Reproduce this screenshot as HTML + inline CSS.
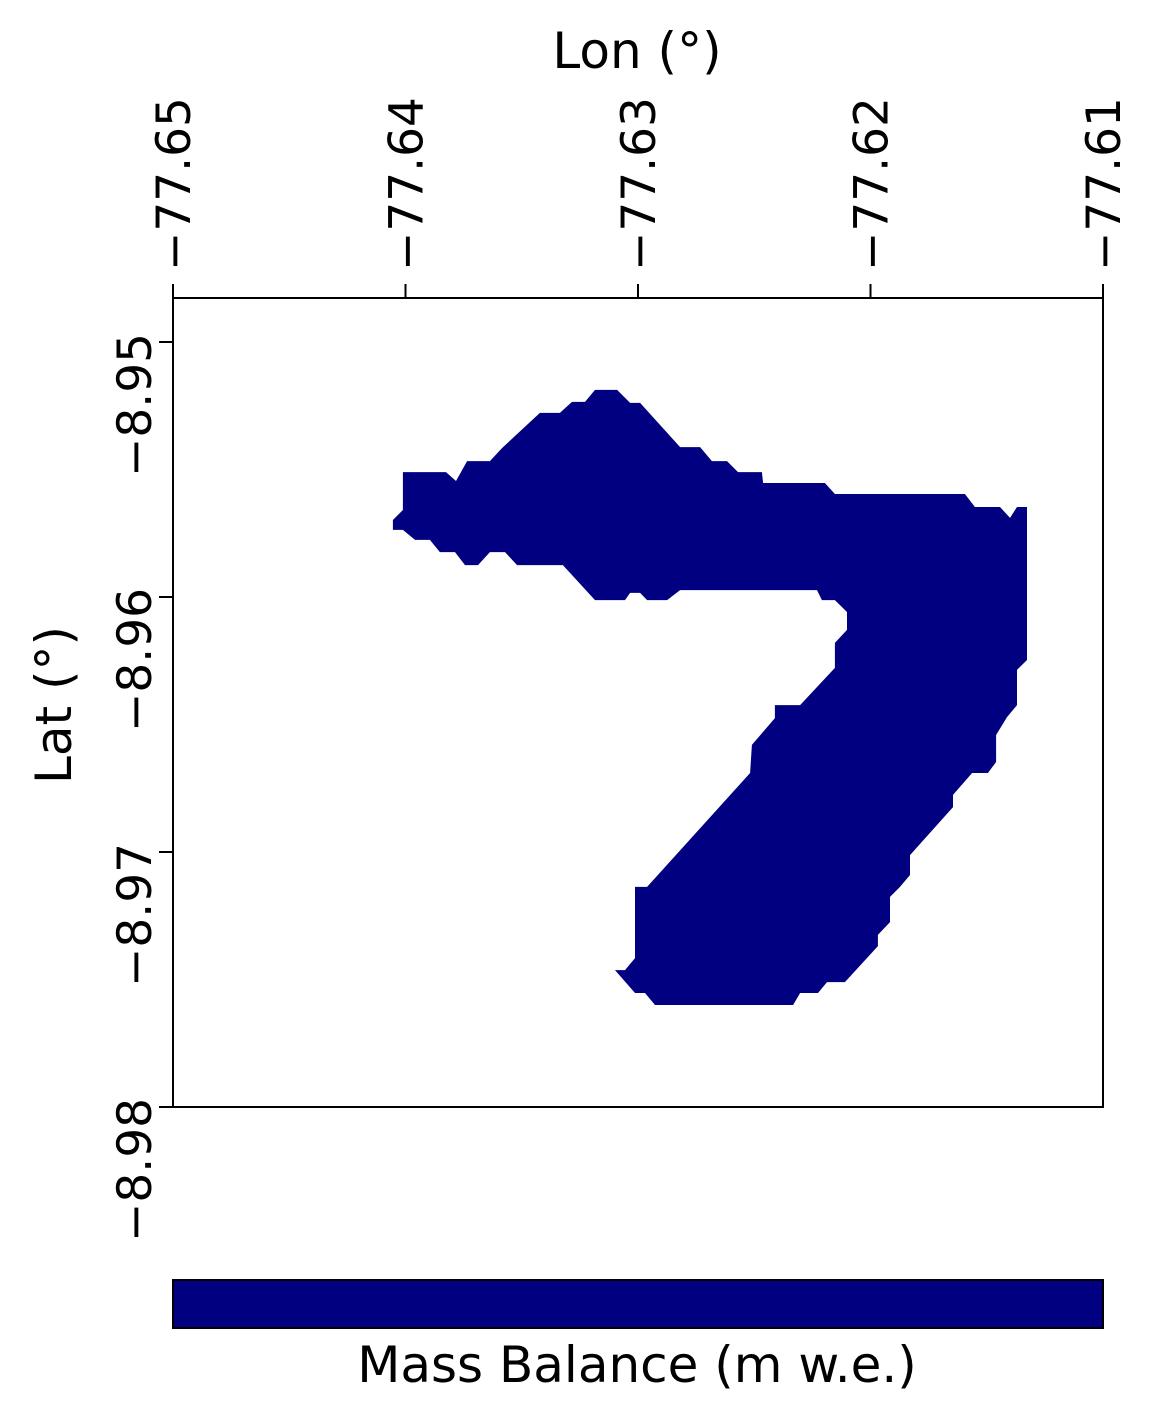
<!DOCTYPE html>
<html><head><meta charset="utf-8"><style>
html,body{margin:0;padding:0;background:#fff;}
svg text{font-family:"DejaVu Sans","Liberation Sans",sans-serif;fill:#000;}
</style></head><body>
<svg id="chart" width="1155" height="1421" viewBox="0 0 1155 1421" xmlns="http://www.w3.org/2000/svg">
<rect x="0" y="0" width="1155" height="1421" fill="#fff"/>
<g id="marks"></g>
<rect x="173" y="298" width="930" height="809" fill="none" stroke="#000" stroke-width="2"/>
<g id="axes"></g>
<text x="637" y="68" font-size="50" text-anchor="middle">Lon (°)</text>
<text transform="translate(71,705) rotate(-90)" font-size="50" text-anchor="middle">Lat (°)</text>
<rect x="173" y="1280" width="930" height="48" fill="#000080" stroke="#000" stroke-width="2"/>
<text x="637" y="1382" font-size="50" text-anchor="middle">Mass Balance (m w.e.)</text>
</svg>
<script>
const lonTicks=[-77.65,-77.64,-77.63,-77.62,-77.61];
const lonTickLabels=["−77.65","−77.64","−77.63","−77.62","−77.61"];
const latTicks=[-8.95,-8.96,-8.97,-8.98];
const latTickLabels=["−8.95","−8.96","−8.97","−8.98"];
const glacierLon=[-77.64054,-77.64011,-77.64011,-77.63826,-77.63783,-77.63735,-77.63637,-77.63585,-77.63422,-77.63336,-77.63284,-77.63228,-77.63185,-77.63090,-77.63034,-77.62991,-77.62819,-77.62733,-77.62682,-77.62617,-77.62570,-77.62467,-77.62462,-77.62196,-77.62153,-77.61594,-77.61551,-77.61443,-77.61400,-77.61370,-77.61327,-77.61327,-77.61370,-77.61370,-77.61413,-77.61460,-77.61460,-77.61495,-77.61563,-77.61645,-77.61645,-77.61830,-77.61830,-77.61873,-77.61916,-77.61916,-77.61968,-77.61968,-77.62110,-77.62187,-77.62226,-77.62303,-77.62333,-77.62927,-77.62970,-77.63013,-77.63099,-77.63056,-77.63013,-77.63013,-77.62961,-77.62518,-77.62510,-77.62411,-77.62411,-77.62303,-77.62153,-77.62153,-77.62101,-77.62101,-77.62153,-77.62209,-77.62230,-77.62819,-77.62875,-77.62961,-77.62991,-77.63034,-77.63056,-77.63185,-77.63323,-77.63520,-77.63572,-77.63637,-77.63688,-77.63744,-77.63787,-77.63852,-77.63895,-77.63959,-77.64011,-77.64054];
const glacierLat=[-8.95698,-8.95659,-8.95510,-8.95510,-8.95545,-8.95467,-8.95467,-8.95416,-8.95278,-8.95278,-8.95235,-8.95235,-8.95188,-8.95188,-8.95239,-8.95239,-8.95412,-8.95412,-8.95467,-8.95467,-8.95510,-8.95510,-8.95553,-8.95553,-8.95596,-8.95596,-8.95647,-8.95647,-8.95690,-8.95647,-8.95647,-8.96247,-8.96286,-8.96424,-8.96471,-8.96541,-8.96647,-8.96690,-8.96690,-8.96776,-8.96824,-8.97012,-8.97090,-8.97137,-8.97176,-8.97275,-8.97325,-8.97369,-8.97510,-8.97510,-8.97553,-8.97553,-8.97600,-8.97600,-8.97553,-8.97553,-8.97463,-8.97463,-8.97416,-8.97137,-8.97137,-8.96690,-8.96580,-8.96475,-8.96424,-8.96424,-8.96278,-8.96180,-8.96129,-8.96059,-8.96012,-8.96012,-8.95973,-8.95973,-8.96012,-8.96012,-8.95984,-8.95984,-8.96012,-8.96012,-8.95875,-8.95875,-8.95824,-8.95824,-8.95875,-8.95875,-8.95824,-8.95824,-8.95776,-8.95776,-8.95737,-8.95737];

const NS='http://www.w3.org/2000/svg';
function xScale(lon){return 173+(lon-(-77.65))/(0.04)*930;}
function yScale(lat){return 342+((-8.95)-lat)/0.01*255;}
const marks=document.getElementById('marks');
const axes=document.getElementById('axes');
const poly=document.createElementNS(NS,'polygon');
poly.setAttribute('points',glacierLon.map((l,i)=>xScale(l).toFixed(1)+','+yScale(glacierLat[i]).toFixed(1)).join(' '));
poly.setAttribute('fill','#000080');


marks.appendChild(poly);

lonTicks.forEach((v,i)=>{
  const x=xScale(v);
  const t=document.createElementNS(NS,'line');
  t.setAttribute('x1',x);t.setAttribute('x2',x);t.setAttribute('y1',284);t.setAttribute('y2',298);
  t.setAttribute('stroke','#000');t.setAttribute('stroke-width','2');
  
  
  axes.appendChild(t);
  const tx=document.createElementNS(NS,'text');
  tx.setAttribute('transform','translate('+(x+17)+',271) rotate(-90)');
  tx.setAttribute('font-size','47');
  tx.textContent=lonTickLabels[i];
  
  
  axes.appendChild(tx);
});
latTicks.forEach((v,i)=>{
  const y=yScale(v);
  const t=document.createElementNS(NS,'line');
  t.setAttribute('x1',159);t.setAttribute('x2',173);t.setAttribute('y1',y);t.setAttribute('y2',y);
  t.setAttribute('stroke','#000');t.setAttribute('stroke-width','2');
  
  
  axes.appendChild(t);
  const tx=document.createElementNS(NS,'text');
  tx.setAttribute('transform','translate(151,'+(y-9)+') rotate(-90)');
  tx.setAttribute('font-size','47');
  tx.setAttribute('text-anchor','end');
  tx.textContent=latTickLabels[i];
  
  
  axes.appendChild(tx);
});
</script>
</body></html>
